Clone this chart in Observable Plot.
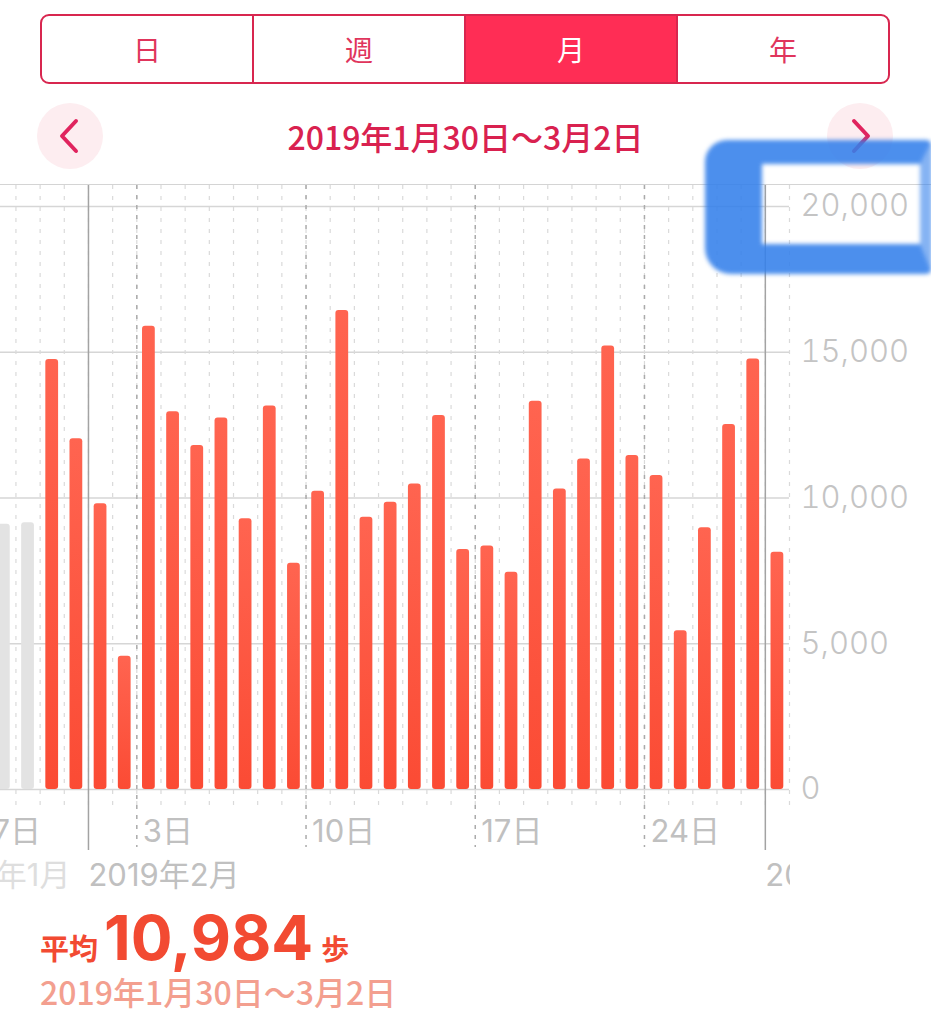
<!DOCTYPE html>
<html>
<head>
<meta charset="utf-8">
<script src="https://cdn.jsdelivr.net/npm/d3@7"></script>
<script src="https://cdn.jsdelivr.net/npm/@observablehq/plot@0.6"></script>
<style>
html, body { margin: 0; padding: 0; background: #fff; }
#page { position: relative; width: 931px; height: 1024px; overflow: hidden;
  font-family: "Noto Sans CJK JP", "Noto Sans", sans-serif; }
.seg { position: absolute; left: 40px; top: 14px; width: 846px; height: 66px;
  border: 2px solid #d8264f; border-radius: 9px; display: flex; overflow: hidden; z-index: 3; }
.seg div { flex: 1; display: flex; align-items: center; justify-content: center;
  font-size: 28px; color: #e0355c; border-left: 2px solid #d8264f; }
.seg div:first-child { border-left: none; }
.seg div.on { background: #ff2d55; color: #fff; }
.nav { position: absolute; top: 103px; width: 66px; height: 66px; border-radius: 50%;
  background: #fdedf0; z-index: 3; }
.title { position: absolute; top: 112px; left: 0; width: 931px; text-align: center;
  font-size: 32px; font-weight: 500; color: #d9214f; z-index: 3; line-height: 48px; }
#chart { position: absolute; left: 0; top: 170px; z-index: 1; }
.mask { position: absolute; left: 790px; top: 850px; width: 141px; height: 50px; background: #fff; z-index: 2; }
.topline { position: absolute; left: 0; top: 184px; width: 931px; height: 0; border-top: 1.5px solid #d4d4d4; z-index: 2; }
.avg { position: absolute; left: 40px; top: 900px; z-index: 3; color: #f24a32; white-space: nowrap; }
.avg .lab { font-size: 29px; font-weight: 700; }
.avg .num { font-family: "Inter", "Noto Sans", sans-serif; font-size: 62px; font-weight: 700; letter-spacing: 0px; margin: 0 8px 0 6px; }
.avg .unit { font-size: 28px; font-weight: 700; }
.sub { position: absolute; left: 40px; top: 968px; font-size: 32px; font-weight: 500; color: #f39f8f; z-index: 3; white-space: nowrap; }
.scribble { position: absolute; left: 705px; top: 140px; width: 158px; height: 80px;
  border-style: solid; border-color: rgba(52,128,235,0.88) rgba(52,128,235,0.6) rgba(52,128,235,0.88) rgba(52,128,235,0.88);
  border-width: 24px 12px 30px 57px; border-radius: 22px 6px 6px 26px;
  filter: blur(2px); z-index: 5; }
</style>
</head>
<body>
<div id="page">
  <div class="seg"><div>日</div><div>週</div><div class="on">月</div><div>年</div></div>
  <div class="nav" style="left:37px"><svg width="66" height="66"><polyline points="39,18 25,33 39,48" fill="none" stroke="#e0245e" stroke-width="4" stroke-linecap="round" stroke-linejoin="round"/></svg></div>
  <div class="nav" style="left:827px"><svg width="66" height="66"><polyline points="27,18 41,33 27,48" fill="none" stroke="#e0245e" stroke-width="4" stroke-linecap="round" stroke-linejoin="round"/></svg></div>
  <div class="title">2019年1月30日～3月2日</div>
  <div class="topline"></div>
  <div id="chart"></div>
  <div class="mask"></div>
  <div class="scribble"></div>
  <div class="avg"><span class="lab">平均</span><span class="num">10,984</span><span class="unit">歩</span></div>
  <div class="sub">2019年1月30日～3月2日</div>
</div>
<script>
// ---- data ----
const prevDates = ["2019-01-28", "2019-01-29"];
const prevSteps = [9100, 9150];

const dates = [
  "2019-01-30","2019-01-31",
  "2019-02-01","2019-02-02","2019-02-03","2019-02-04","2019-02-05","2019-02-06","2019-02-07",
  "2019-02-08","2019-02-09","2019-02-10","2019-02-11","2019-02-12","2019-02-13","2019-02-14",
  "2019-02-15","2019-02-16","2019-02-17","2019-02-18","2019-02-19","2019-02-20","2019-02-21",
  "2019-02-22","2019-02-23","2019-02-24","2019-02-25","2019-02-26","2019-02-27","2019-02-28",
  "2019-03-01"
];
const steps = [
  14750, 12030,
  9800, 4570, 15890, 12960, 11800, 12740, 9290,
  13160, 7760, 10230, 16430, 9340, 9850, 10480,
  12830, 8230, 8350, 7450, 13320, 10310, 11340,
  15210, 11460, 10770, 5450, 8980, 12520, 14770,
  8140
];

const yTicks = [0, 5000, 10000, 15000, 20000];
const weekTicks = ["2019-01-27", "2019-02-03", "2019-02-10", "2019-02-17", "2019-02-24"];
const monthStarts = ["2019-02-01", "2019-03-01"];
const prevMonthLabel = "2019年1月";
const monthLabels = ["2019年2月", "2019年3月"];
const viewStart = "2019-01-28T08:40:00Z";
const viewEnd = "2019-03-02";
const yMax = 20720;

// ---- build ----
const parse = s => new Date(s.length > 10 ? s : s + "T00:00:00Z");
const nextDay = d => d3.utcDay.offset(d, 1);
const bars = dates.map((d, i) => ({start: parse(d), end: nextDay(parse(d)), v: steps[i]}));
const prevBars = prevDates.map((d, i) => ({start: parse(d), end: nextDay(parse(d)), v: prevSteps[i]}));
const dayLines = d3.utcDay.range(parse("2019-01-27"), nextDay(parse(viewEnd)));
const weeks = weekTicks.map(parse);
const months = monthStarts.map(parse);
const mLabels = monthStarts.map((d, i) => ({x: parse(d), label: monthLabels[i]}));
const prevLabel = [{x: months[0], label: prevMonthLabel}];
const latinCJK = "Inter, \"Noto Sans CJK JP\", sans-serif";

const plot = Plot.plot({
  width: 931,
  height: 730,
  marginTop: 15,
  marginBottom: 111,
  marginLeft: 0,
  marginRight: 142,
  style: {background: "transparent", overflow: "visible", fontFamily: "\"Noto Sans CJK JP\", sans-serif"},
  x: {type: "utc", domain: [parse(viewStart), parse(viewEnd)], axis: null},
  y: {domain: [0, yMax], axis: null},
  marks: [
    Plot.ruleY(yTicks, {stroke: "#d6d6d6", strokeWidth: 1.5}),
    Plot.ruleX(dayLines, {stroke: "#dadada", strokeWidth: 1.2, strokeDasharray: "4,7", insetBottom: -16}),
    Plot.ruleX(weeks, {stroke: "#ababab", strokeWidth: 1.5, strokeDasharray: "4,6", insetBottom: -58}),
    Plot.ruleX(months, {stroke: "#a3a3a3", strokeWidth: 1.5, insetBottom: -61}),
    Plot.rectY(prevBars, {x1: "start", x2: "end", y: "v", fill: "#e3e3e3", insetLeft: 5.7, insetRight: 5.7, rx: 3}),
    Plot.rectY(bars, {x1: "start", x2: "end", y: "v", fill: "url(#barGrad)", insetLeft: 5.7, insetRight: 5.7, rx: 3}),
    Plot.axisY(yTicks, {anchor: "right", label: null, tickSize: 0, tickPadding: 11, tickFormat: d3.format(","),
      fontSize: 31, fill: "#c4c4c4", fontFamily: "Inter, sans-serif", fontWeight: 300}),
    Plot.text(weeks, {x: d => d, frameAnchor: "bottom", dy: 43, dx: 6, textAnchor: "start",
      text: d => `${d.getUTCDate()}日`, fontSize: 31, fill: "#c0c0c0", lineAnchor: "middle", fontFamily: latinCJK}),
    Plot.text(mLabels, {x: "x", frameAnchor: "bottom", dy: 87, dx: 0, textAnchor: "start",
      text: "label", fontSize: 31, fill: "#c0c0c0", lineAnchor: "middle", fontFamily: latinCJK}),
    Plot.text(prevLabel, {x: "x", frameAnchor: "bottom", dy: 87, dx: -18, textAnchor: "end",
      text: "label", fontSize: 31, fill: "#dedede", lineAnchor: "middle", fontFamily: latinCJK})
  ]
});

const svg = plot.tagName.toLowerCase() === "svg" ? plot : plot.querySelector("svg");
const defs = d3.select(svg).insert("defs", ":first-child");
const g = defs.append("linearGradient").attr("id", "barGrad").attr("x1", 0).attr("y1", 0).attr("x2", 0).attr("y2", 1);
g.append("stop").attr("offset", "0%").attr("stop-color", "#ff6450");
g.append("stop").attr("offset", "100%").attr("stop-color", "#fb4b34");
document.getElementById("chart").appendChild(plot);
</script>
</body>
</html>
